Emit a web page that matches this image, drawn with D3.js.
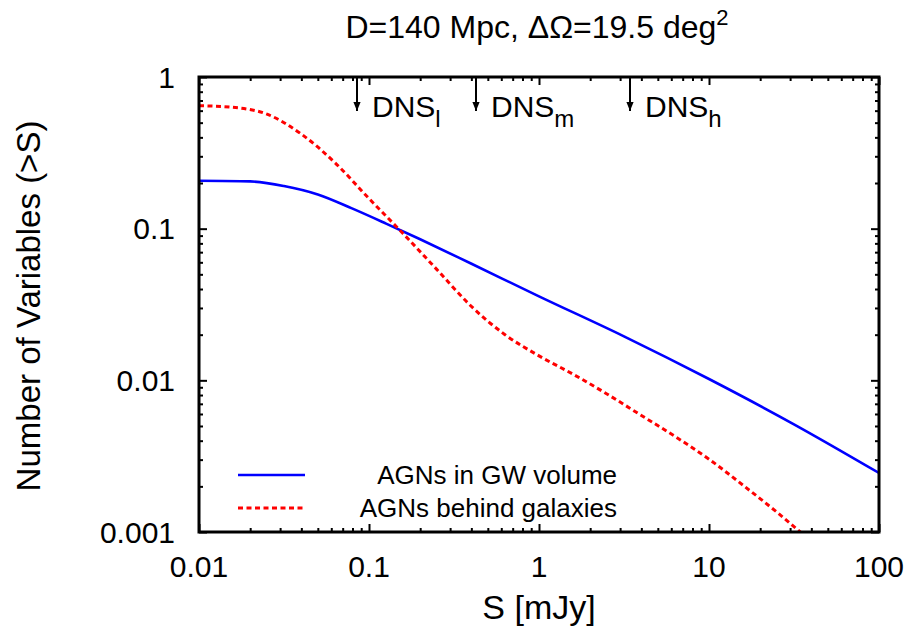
<!DOCTYPE html>
<html><head><meta charset="utf-8">
<script src="https://cdn.jsdelivr.net/npm/d3@7"></script>
<style>body{margin:0;background:#fff}svg{display:block}text{font-family:"Liberation Sans",Arial,sans-serif;fill:#000}</style>
</head><body><svg id="c" width="916" height="634"></svg>
<script>
const blueS = [0.01, 0.02, 0.0316, 0.05, 0.0794, 0.126, 0.2, 0.398, 1, 3.16, 10, 31.6, 100];
const blueN = [0.207, 0.205, 0.191, 0.168, 0.136, 0.108, 0.0851, 0.0589, 0.0358, 0.0195, 0.0102, 0.00513, 0.00245];
const redS = [0.01, 0.0158, 0.0251, 0.0398, 0.0631, 0.1, 0.158, 0.251, 0.398, 0.631, 1, 1.58, 2.51, 3.98, 6.31, 10, 15.8, 25.1, 39.8];
const redN = [0.647, 0.631, 0.569, 0.422, 0.272, 0.158, 0.0933, 0.0537, 0.0309, 0.0200, 0.0145, 0.0110, 0.00813, 0.00589, 0.00427, 0.00302, 0.00204, 0.00135, 0.00087];
const xTicks = [0.01, 0.1, 1, 10, 100];
const xTickLabels = ["0.01", "0.1", "1", "10", "100"];
const yTicks = [1, 0.1, 0.01, 0.001];
const yTickLabels = ["1", "0.1", "0.01", "0.001"];
const markerS = [0.085, 0.426, 3.43];
const markerBase = ["DNS", "DNS", "DNS"];
const markerSub = ["l", "m", "h"];
const legendLabels = ["AGNs in GW volume", "AGNs behind galaxies"];

const W = 916, H = 634;
const m = {l: 199, r: 37, t: 77, b: 102};
const svg = d3.select("#c");
const x = d3.scaleLog().domain([0.01, 100]).range([m.l, W - m.r]);
const y = d3.scaleLog().domain([0.001, 1]).range([H - m.b, m.t]);

svg.append("defs").append("clipPath").attr("id", "clip")
  .append("rect").attr("x", m.l).attr("y", m.t).attr("width", W - m.l - m.r).attr("height", H - m.t - m.b);

const line = d3.line().x(d => x(d[0])).y(d => y(d[1])).curve(d3.curveMonotoneX);
const g = svg.append("g").attr("clip-path", "url(#clip)");
g.append("path").attr("d", line(blueS.map((s, i) => [s, blueN[i]])))
  .attr("fill", "none").attr("stroke", "#0000ff").attr("stroke-width", 2.6);
g.append("path").attr("d", line(redS.map((s, i) => [s, redN[i]])))
  .attr("fill", "none").attr("stroke", "#ff0000").attr("stroke-width", 3).attr("stroke-dasharray", "5,3.5");

const minorX = [];
for (let e = -2; e < 2; e++) for (let k = 2; k <= 9; k++) minorX.push(k * Math.pow(10, e));
const minorY = [];
for (let e = -3; e < 0; e++) for (let k = 2; k <= 9; k++) minorY.push(k * Math.pow(10, e));

function axisSet(axisFn, scale, vals, size, transform) {
  const a = svg.append("g").attr("transform", transform)
    .call(axisFn(scale).tickValues(vals).tickSizeInner(-size).tickSizeOuter(0).tickFormat(""));
  a.select(".domain").remove();
  a.selectAll(".tick line").attr("stroke", "#000").attr("stroke-width", 2);
  return a;
}
axisSet(d3.axisBottom, x, xTicks, 8, `translate(0,${H - m.b})`);
axisSet(d3.axisBottom, x, minorX, 4, `translate(0,${H - m.b})`);
axisSet(d3.axisTop, x, xTicks, 8, `translate(0,${m.t})`);
axisSet(d3.axisTop, x, minorX, 4, `translate(0,${m.t})`);
axisSet(d3.axisLeft, y, yTicks, 8, `translate(${m.l},0)`);
axisSet(d3.axisLeft, y, minorY, 4, `translate(${m.l},0)`);
axisSet(d3.axisRight, y, yTicks, 8, `translate(${W - m.r},0)`);
axisSet(d3.axisRight, y, minorY, 4, `translate(${W - m.r},0)`);

svg.append("rect").attr("x", m.l).attr("y", m.t).attr("width", W - m.l - m.r).attr("height", H - m.t - m.b)
  .attr("fill", "none").attr("stroke", "#000").attr("stroke-width", 3);

svg.append("g").selectAll("text").data(xTicks).join("text")
  .attr("x", d => x(d)).attr("y", 577).attr("text-anchor", "middle").attr("font-size", 30)
  .text((d, i) => xTickLabels[i]);
svg.append("g").selectAll("text").data(yTicks).join("text")
  .attr("x", 175).attr("y", d => y(d) + 10.5).attr("text-anchor", "end").attr("font-size", 30)
  .text((d, i) => yTickLabels[i]);

svg.append("text").attr("x", 539).attr("y", 619).attr("text-anchor", "middle").attr("font-size", 34).text("S [mJy]");
svg.append("text").attr("transform", "translate(40,306) rotate(-90)").attr("text-anchor", "middle").attr("font-size", 33)
  .text("Number of Variables (>S)");

const t = svg.append("text").attr("x", 537).attr("y", 38).attr("text-anchor", "middle").attr("font-size", 32);
t.append("tspan").text("D=140 Mpc, ΔΩ=19.5 deg");
t.append("tspan").attr("dy", -13).attr("font-size", 22).text("2");

svg.append("defs").append("marker").attr("id", "ah").attr("viewBox", "0 0 10 10").attr("refX", 10).attr("refY", 5)
  .attr("markerWidth", 10).attr("markerHeight", 9).attr("markerUnits", "userSpaceOnUse").attr("orient", "auto")
  .append("path").attr("d", "M0,1 L10,5 L0,9 Z").attr("fill", "#000");
markerS.forEach((s, i) => {
  svg.append("line").attr("x1", x(s)).attr("x2", x(s)).attr("y1", m.t).attr("y2", 111)
    .attr("stroke", "#000").attr("stroke-width", 2).attr("marker-end", "url(#ah)");
  const tx = svg.append("text").attr("x", x(s) + 15).attr("y", 117).attr("font-size", 30);
  tx.append("tspan").text(markerBase[i]);
  tx.append("tspan").attr("dy", 10).attr("font-size", 24).text(markerSub[i]);
});

const legY = [475, 508];
svg.append("line").attr("x1", 238).attr("x2", 305).attr("y1", legY[0]).attr("y2", legY[0]).attr("stroke", "#0000ff").attr("stroke-width", 2.6);
svg.append("line").attr("x1", 238).attr("x2", 305).attr("y1", legY[1]).attr("y2", legY[1]).attr("stroke", "#ff0000").attr("stroke-width", 3).attr("stroke-dasharray", "5,3.5");
legendLabels.forEach((l, i) => {
  svg.append("text").attr("x", 617).attr("y", legY[i] + 9).attr("text-anchor", "end").attr("font-size", 26).text(l);
});
</script></body></html>
